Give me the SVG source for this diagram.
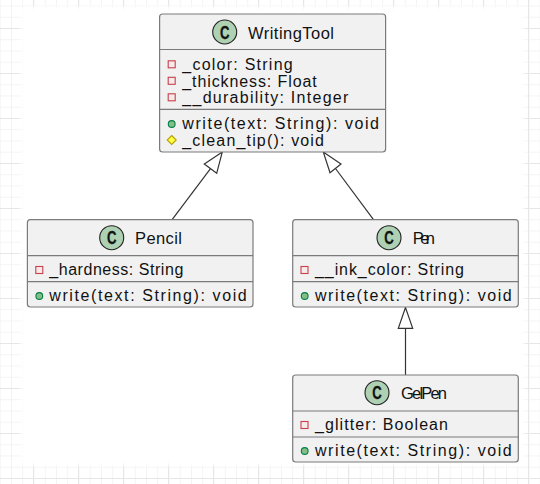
<svg xmlns="http://www.w3.org/2000/svg" width="540" height="484" viewBox="0 0 540 484">
<style>
.box{fill:#f1f1f1;stroke:#7b7b7b;stroke-width:1.2}
.sep{stroke:#7b7b7b;stroke-width:1.2;fill:none}
.ico{fill:#add1b2;stroke:#222;stroke-width:1.1}
.c{font:bold 18px "Liberation Sans",Arial,sans-serif;fill:#111;stroke:#111;stroke-width:.3}
.t{font:16.5px "Liberation Sans",Arial,sans-serif;fill:#111}
.m{font:16px "Liberation Sans",Arial,sans-serif;fill:#111}
.priv{fill:#f6eaea;stroke:#c8404a;stroke-width:1.1}
.pub{fill:#84be84;stroke:#038048;stroke-width:1.1}
.prot{fill:#ffff44;stroke:#b8a000;stroke-width:1.1}
.edge{stroke:#333;stroke-width:1.2;fill:none}
.head{stroke:#333;stroke-width:1.2;fill:#fff}
</style>
<defs>
<pattern id="minor" width="11.25" height="11.25" patternUnits="userSpaceOnUse" x="-.25" y="5.5"><path d="M.5 0V11.25M0 .5H11.25" stroke="#f3f3f3" fill="none"/></pattern>
<pattern id="major" width="45" height="45" patternUnits="userSpaceOnUse" x="33" y="28"><path d="M.5 0V45M0 .5H45" stroke="#e6e6e6" fill="none"/></pattern>
<filter id="soft" x="-5%" y="-5%" width="110%" height="110%"><feGaussianBlur stdDeviation="2"/></filter>
</defs>
<rect id="background" width="540" height="484" fill="#fff"/>
<rect width="540" height="484" fill="url(#minor)"/>
<rect width="540" height="484" fill="url(#major)"/>
<rect x="21" y="7" width="503" height="458" fill="#fff" filter="url(#soft)"/>
<g id="connectors">
<path class="edge" d="M172.3 219.3L210.5 168.7"/>
<path class="head" d="M222.3 152L204.3 164L216.7 173.3Z"/>
<path class="edge" d="M373.3 219.3L335.5 168.5"/>
<path class="head" d="M323.3 152L341 164L330 172.7Z"/>
<path class="edge" d="M405.5 375V328.3"/>
<path class="head" d="M405.5 307.5L398.3 328.3H412.7Z"/>
</g>
<g id="WritingTool">
<rect class="box" x="159.6" y="14" width="226" height="138" rx="3"/>
<path class="sep" d="M159.6 49.5H385.6M159.6 109.3H385.6"/>
<circle class="ico" cx="224.7" cy="32" r="12"/>
<text class="c" x="220" y="38.500" textLength="9.500" lengthAdjust="spacingAndGlyphs">C</text>
<text class="t" x="248" y="38.500" textLength="86">WritingTool</text>
<rect class="priv" x="168.2" y="60.800" width="7" height="7"/>
<text class="m" x="182.3" y="70" textLength="110.4">_color: String</text>
<rect class="priv" x="168.2" y="77.300" width="7" height="7"/>
<text class="m" x="182.3" y="86.5" textLength="134.4">_thickness: Float</text>
<rect class="priv" x="168.2" y="93.800" width="7" height="7"/>
<text class="m" x="182.3" y="103" textLength="166">__durability: Integer</text>
<circle class="pub" cx="171.7" cy="124" r="3.4"/>
<text class="m" x="182.3" y="129" textLength="196.7">write(text: String): void</text>
<path class="prot" d="M171.7 135.500L176.2 140L171.7 144.500L167.200 140Z"/>
<text class="m" x="182.3" y="146" textLength="141.700">_clean_tip(): void</text>
</g>
<g id="Pencil">
<rect class="box" x="27.400" y="219.700" width="225.600" height="87.300" rx="3"/>
<path class="sep" d="M27.400 255.700H253M27.400 281.700H253"/>
<circle class="ico" cx="111.700" cy="237.700" r="12"/>
<text class="c" x="107" y="244.200" textLength="9.500" lengthAdjust="spacingAndGlyphs">C</text>
<text class="t" x="135" y="244.200" textLength="47">Pencil</text>
<rect class="priv" x="35.800" y="266.500" width="7" height="7"/>
<text class="m" x="49.300" y="275.300" textLength="134">_hardness: String</text>
<circle class="pub" cx="39.300" cy="296" r="3.400"/>
<text class="m" x="49.300" y="301.300" textLength="197.400">write(text: String): void</text>
</g>
<g id="Pen">
<rect class="box" x="292.700" y="219.700" width="225.600" height="87.300" rx="3"/>
<path class="sep" d="M292.700 255.700H518.300M292.700 281.700H518.300"/>
<circle class="ico" cx="389" cy="237.700" r="12"/>
<text class="c" x="384.300" y="244.200" textLength="9.500" lengthAdjust="spacingAndGlyphs">C</text>
<text class="t" x="412.700" y="244.200" textLength="22.300">Pen</text>
<rect class="priv" x="301" y="266.500" width="7" height="7"/>
<text class="m" x="315" y="275.300" textLength="149">__ink_color: String</text>
<circle class="pub" cx="304.700" cy="296" r="3.400"/>
<text class="m" x="315" y="301.300" textLength="196.700">write(text: String): void</text>
</g>
<g id="GelPen">
<rect class="box" x="292.700" y="375" width="225.600" height="87" rx="3"/>
<path class="sep" d="M292.700 411H518.300M292.700 437H518.300"/>
<circle class="ico" cx="377" cy="392.700" r="12"/>
<text class="c" x="372.300" y="399.200" textLength="9.500" lengthAdjust="spacingAndGlyphs">C</text>
<text class="t" x="401" y="399.200" textLength="46">GelPen</text>
<rect class="priv" x="301" y="421.500" width="7" height="7"/>
<text class="m" x="315" y="430.300" textLength="133">_glitter: Boolean</text>
<circle class="pub" cx="304.700" cy="451" r="3.400"/>
<text class="m" x="315" y="456.300" textLength="196.700">write(text: String): void</text>
</g>
</svg>
